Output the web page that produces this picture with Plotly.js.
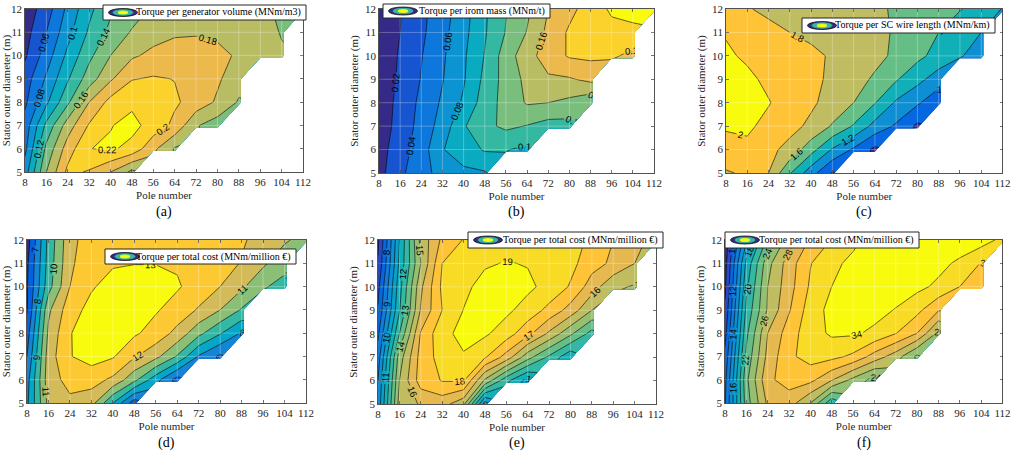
<!DOCTYPE html>
<html>
<head>
<meta charset="utf-8">
<script src="https://cdn.plot.ly/plotly-3.0.1.min.js"></script>
<style>
html,body{margin:0;padding:0;background:#fff;}
#chart{width:1012px;height:452px;}
</style>
</head>
<body>
<div id="chart"></div>
<script>
// ---------------- data ----------------
const N = null;
const poleNumber = [8,16,24,32,40,48,56,64,72,80,88,96,104,112];
const statorDiameter = [5,6,7,8,9,10,11,12];
const poleTicks = [8,16,24,32,40,48,56,64,72,80,88,96,104,112];
const diameterTicks = [5,6,7,8,9,10,11,12];

// rows: stator diameter 5..12 m, columns: pole number 8..112
const torquePerVolume = [
  [0.09, 0.16, 0.205, 0.198, 0.18, 0.155, N,N,N,N,N,N,N,N],
  [0.075, 0.145, 0.19, 0.2195, 0.223, 0.214, 0.185, 0.158, N,N,N,N,N,N],
  [0.068, 0.125, 0.17, 0.202, 0.219, 0.226, 0.212, 0.195, 0.162, 0.15, N,N,N,N],
  [0.056, 0.096, 0.136, 0.18, 0.207, 0.216, 0.213, 0.203, 0.192, 0.177, 0.158, N,N,N],
  [0.05, 0.083, 0.118, 0.15, 0.177, 0.199, 0.202, 0.1995, 0.193, 0.183, 0.168, N,N,N],
  [0.037, 0.07, 0.105, 0.135, 0.16, 0.177, 0.185, 0.19, 0.19, 0.184, 0.178, 0.17, 0.162, N],
  [0.032, 0.06, 0.093, 0.123, 0.145, 0.162, 0.172, 0.177, 0.178, 0.177, 0.173, 0.167, 0.159, N],
  [0.028, 0.05, 0.085, 0.115, 0.137, 0.15, 0.163, 0.168, 0.172, 0.174, 0.171, 0.166, 0.155, 0.148]
];
const torquePerIronMass = [
  [0.013, 0.036, 0.052, 0.068, 0.076, 0.078, N,N,N,N,N,N,N,N],
  [0.012, 0.031, 0.05, 0.079, 0.09, 0.102, 0.101, 0.096, N,N,N,N,N,N],
  [0.011, 0.026, 0.048, 0.068, 0.098, 0.115, 0.124, 0.119, 0.112, 0.113, N,N,N,N],
  [0.01, 0.025, 0.045, 0.063, 0.083, 0.11, 0.127, 0.142, 0.14, 0.135, 0.125, N,N,N],
  [0.008, 0.023, 0.041, 0.059, 0.078, 0.105, 0.128, 0.145, 0.157, 0.158, 0.165, N,N,N],
  [0.007, 0.022, 0.039, 0.057, 0.077, 0.101, 0.13, 0.152, 0.17, 0.182, 0.184, 0.183, 0.175, N],
  [0.006, 0.02, 0.036, 0.054, 0.074, 0.098, 0.121, 0.141, 0.165, 0.183, 0.19, 0.194, 0.193, N],
  [0.005, 0.019, 0.035, 0.051, 0.071, 0.097, 0.119, 0.136, 0.16, 0.174, 0.19, 0.203, 0.21, 0.215]
];
const torquePerWireLength = [
  [1.78, 1.83, 1.8, 1.42, 1.08, 0.78, N,N,N,N,N,N,N,N],
  [1.93, 1.96, 1.85, 1.74, 1.48, 1.18, 0.97, 0.75, N,N,N,N,N,N],
  [2.02, 2.03, 1.95, 1.86, 1.76, 1.58, 1.38, 1.13, 0.97, 0.76, N,N,N,N],
  [2.1, 2.06, 2.01, 1.92, 1.83, 1.73, 1.6, 1.41, 1.17, 1.03, 0.85, N,N,N],
  [2.08, 2.04, 1.96, 1.9, 1.84, 1.77, 1.68, 1.57, 1.42, 1.26, 1.1, N,N,N],
  [2.03, 1.97, 1.92, 1.88, 1.84, 1.78, 1.72, 1.66, 1.56, 1.45, 1.33, 1.21, 1.15, N],
  [1.985, 1.9, 1.84, 1.8, 1.76, 1.73, 1.7, 1.65, 1.58, 1.5, 1.4, 1.3, 1.2, N],
  [1.85, 1.81, 1.77, 1.74, 1.72, 1.7, 1.67, 1.63, 1.58, 1.53, 1.47, 1.41, 1.33, 1.19]
];
const torquePerCostD = [
  [7.8, 11.3, 11.8, 11.4, 9.0, 6.4, N,N,N,N,N,N,N,N],
  [7.6, 11.6, 12.3, 12.4, 11.8, 10.3, 8.4, 6.6, N,N,N,N,N,N],
  [7.0, 11.5, 12.95, 13.4, 13.1, 12.1, 11.3, 9.9, 7.9, 6.8, N,N,N,N],
  [6.5, 11.2, 12.95, 13.5, 13.45, 13.15, 12.6, 11.7, 10.3, 9.1, 7.9, N,N,N],
  [5.9, 10.8, 12.6, 13.3, 13.55, 13.4, 13.1, 12.6, 11.9, 11.0, 9.9, N,N,N],
  [5.9, 9.6, 12.0, 12.9, 13.35, 13.5, 13.45, 13.1, 12.6, 12.0, 11.2, 10.1, 9.7, N],
  [5.8, 9.4, 11.8, 12.7, 12.9, 12.97, 12.97, 12.9, 12.75, 12.35, 11.95, 11.2, 10.3, N],
  [5.5, 9.3, 11.7, 12.5, 12.7, 12.8, 12.85, 12.8, 12.6, 12.4, 12.1, 11.7, 11.15, 10.6]
];
const torquePerCostE = [
  [9.3, 15.4, 16.1, 16.4, 15.3, 9.5, N,N,N,N,N,N,N,N],
  [9.0, 15.0, 17.5, 18.05, 18.1, 14.8, 12.3, 10.6, N,N,N,N,N,N],
  [8.5, 14.5, 17.4, 18.4, 18.9, 18.1, 16.6, 14.4, 12.8, 11.2, N,N,N,N],
  [7.8, 13.0, 17.1, 18.7, 19.3, 19.15, 18.5, 17.3, 15.8, 14.2, 12.6, N,N,N],
  [7.1, 11.9, 16.1, 18.0, 19.02, 19.45, 19.2, 18.6, 17.7, 16.6, 15.0, N,N,N],
  [6.7, 11.6, 15.8, 18.2, 18.8, 19.3, 19.4, 19.2, 18.7, 17.9, 16.5, 15.2, 14.9, N],
  [6.1, 11.2, 15.0, 18.0, 18.65, 18.9, 19.05, 18.95, 18.65, 18.3, 17.4, 16.8, 16.0, N],
  [5.8, 11.0, 15.3, 17.2, 18.05, 18.4, 18.6, 18.6, 18.45, 18.2, 17.9, 17.0, 16.3, 15.7]
];
const torquePerCostF = [
  [11.8, 23.0, 28.4, 29.0, 26.0, 20.5, N,N,N,N,N,N,N,N],
  [11.4, 23.5, 29.6, 30.8, 30.6, 28.2, 25.5, 23.2, N,N,N,N,N,N],
  [10.5, 22.5, 28.6, 31.6, 32.8, 32.6, 31.6, 29.2, 27.0, 23.6, N,N,N,N],
  [9.3, 21.5, 28.0, 31.0, 33.2, 34.3, 34.3, 33.6, 32.1, 30.0, 25.5, N,N,N],
  [8.3, 20.5, 26.2, 29.8, 33.0, 34.6, 35.0, 34.7, 33.9, 32.6, 30.2, N,N,N],
  [7.6, 19.5, 26.0, 29.2, 32.3, 34.0, 34.8, 35.2, 35.0, 34.5, 33.6, 32.0, 31.2, N],
  [7.2, 18.5, 25.3, 29.0, 31.9, 33.6, 34.4, 34.9, 35.1, 35.0, 34.6, 33.6, 31.9, N],
  [6.5, 15.8, 22.6, 27.0, 30.3, 32.1, 33.6, 34.7, 35.1, 35.3, 35.4, 35.3, 34.9, 33.5]
];

// contour levels [start, end, step]
const levelsA = [0.04, 0.22, 0.02];
const levelsB = [0.02, 0.20, 0.02];
const levelsC = [0.8, 2.0, 0.2];
const levelsD = [6, 13, 1];
const levelsE = [6, 19, 1];
const levelsF = [8, 34, 2];

const legendTexts = [
  'Torque per generator volume (MNm/m3)',
  'Torque per irom mass (MNm/t)',
  'Torque per SC wire length (MNm/km)',
  'Torque per total cost (MNm/million €)',
  'Torque per total cost (MNm/million €)',
  'Torque per total cost (MNm/million €)'
];
const panelLabels = ['(a)','(b)','(c)','(d)','(e)','(f)'];
const xTitle = 'Pole number';
const yTitle = 'Stator outer diameter (m)';

// ---------------- styling ----------------
const W = 1012, H = 452;
const parula = [
  [0,'rgb(53,42,135)'],[4/63,'rgb(50,67,186)'],[8/63,'rgb(3,99,225)'],[12/63,'rgb(13,117,220)'],
  [16/63,'rgb(20,133,212)'],[20/63,'rgb(9,152,209)'],[24/63,'rgb(6,167,198)'],[28/63,'rgb(21,177,180)'],
  [32/63,'rgb(56,185,158)'],[36/63,'rgb(101,190,134)'],[40/63,'rgb(146,191,115)'],[44/63,'rgb(183,189,100)'],
  [48/63,'rgb(217,186,86)'],[50/63,'rgb(233,185,78)'],[52/63,'rgb(248,187,68)'],[54/63,'rgb(255,195,55)'],
  [56/63,'rgb(252,206,46)'],[58/63,'rgb(247,216,38)'],[60/63,'rgb(245,228,29)'],[62/63,'rgb(246,243,19)'],
  [1,'rgb(249,251,14)']
];

// pixel boxes of each plot area: [left, right, top, bottom]
const plotBoxes = [
  [25, 303, 9, 172], [379, 654, 9, 173], [726, 1002.5, 9, 173],
  [27, 306, 240, 403], [378, 656, 240, 404], [725, 1002.5, 240, 403]
];
// legend boxes: [left, top, width, height]
const legendBoxes = [
  [103, 5, 203, 15], [383, 4, 167, 14], [802, 18, 193, 15],
  [105, 249, 191, 15], [468, 232, 195, 16], [725, 232, 194, 16]
];
const panelLabelY = [212, 212, 212, 443, 443, 443];

const datasets = [torquePerVolume, torquePerIronMass, torquePerWireLength, torquePerCostD, torquePerCostE, torquePerCostF];
const levelSets = [levelsA, levelsB, levelsC, levelsD, levelsE, levelsF];

const px = p => p / W;
const py = p => 1 - p / H;
const serif = "'Liberation Serif', 'Times New Roman', serif";
const sans = "'Liberation Sans', Arial, sans-serif";
const axisColor = '#262626';

const traces = [];
const layout = {
  width: W, height: H,
  margin: {l:0, r:0, t:0, b:0},
  paper_bgcolor: '#ffffff', plot_bgcolor: '#ffffff',
  showlegend: false,
  font: {family: serif, size: 11, color: axisColor},
  shapes: [], annotations: []
};

for (let i = 0; i < 6; i++) {
  const sfx = i === 0 ? '' : String(i + 1);
  const [l, r, t, b] = plotBoxes[i];
  const lv = levelSets[i];
  traces.push({
    type: 'contour',
    x: poleNumber, y: statorDiameter, z: datasets[i],
    xaxis: 'x' + sfx, yaxis: 'y' + sfx,
    autocontour: false,
    contours: {start: lv[0], end: lv[1], size: lv[2], coloring: 'fill',
      showlabels: true, labelfont: {family: sans, size: 9.5, color: '#000000'}},
    line: {color: '#000000', width: 0.6, smoothing: 0},
    colorscale: parula, showscale: false, connectgaps: false,
    hoverinfo: 'skip'
  });
  layout['xaxis' + sfx] = {
    domain: [px(l), px(r)], anchor: 'y' + sfx, range: [8, 112],
    tickvals: poleTicks, ticktext: poleTicks.map(String),
    ticks: 'inside', ticklen: 3, tickwidth: 0.8, tickcolor: axisColor,
    showline: true, linecolor: axisColor, linewidth: 0.8, mirror: 'ticks',
    showgrid: false, zeroline: false, ticklabeloverflow: 'allow',
    tickfont: {family: serif, size: 11, color: axisColor},
    title: {text: xTitle, font: {family: serif, size: 11, color: axisColor}, standoff: 4}
  };
  layout['yaxis' + sfx] = {
    domain: [py(b), py(t)], anchor: 'x' + sfx, range: [5, 12],
    tickvals: diameterTicks, ticktext: diameterTicks.map(String),
    ticks: 'inside', ticklen: 3, tickwidth: 0.8, tickcolor: axisColor,
    showline: true, linecolor: axisColor, linewidth: 0.8, mirror: 'ticks',
    showgrid: false, zeroline: false, ticklabeloverflow: 'allow',
    tickfont: {family: serif, size: 11, color: axisColor},
    title: {text: yTitle, font: {family: serif, size: 11, color: axisColor}, standoff: 4}
  };
  // faint grid lines drawn above the filled contours
  poleTicks.slice(1, -1).forEach(v => layout.shapes.push({
    type: 'line', xref: 'x' + sfx, yref: 'y' + sfx, x0: v, x1: v, y0: 5, y1: 12,
    line: {color: 'rgba(255,255,255,0.28)', width: 1}, layer: 'above'
  }));
  diameterTicks.slice(1, -1).forEach(v => layout.shapes.push({
    type: 'line', xref: 'x' + sfx, yref: 'y' + sfx, x0: 8, x1: 112, y0: v, y1: v,
    line: {color: 'rgba(255,255,255,0.28)', width: 1}, layer: 'above'
  }));
  // legend box with contour icon
  const [ll, lt, lw, lh] = legendBoxes[i];
  layout.shapes.push({type: 'rect', xref: 'paper', yref: 'paper',
    x0: px(ll), x1: px(ll + lw), y0: py(lt + lh), y1: py(lt),
    fillcolor: '#ffffff', line: {color: axisColor, width: 1}, layer: 'above'});
  const cx = ll + 20, cy = lt + lh / 2;
  [[14.5, 4, 'rgb(53,42,135)', '#111'], [10, 2.7, 'rgb(56,185,158)', 'rgb(56,185,158)'], [5, 1.5, 'rgb(249,251,14)', 'rgb(249,251,14)']]
    .forEach(([rx, ry, fc, lc]) => layout.shapes.push({type: 'circle', xref: 'paper', yref: 'paper',
      x0: px(cx - rx), x1: px(cx + rx), y0: py(cy + ry), y1: py(cy - ry),
      fillcolor: fc, line: {color: lc, width: 0.8}, layer: 'above'}));
  layout.annotations.push({xref: 'paper', yref: 'paper', x: px(ll + lw - 3), y: py(cy),
    xanchor: 'right', yanchor: 'middle', showarrow: false, text: legendTexts[i],
    font: {family: serif, size: 10, color: '#000000'}});
  layout.annotations.push({xref: 'paper', yref: 'paper', x: px((l + r) / 2), y: py(panelLabelY[i]),
    xanchor: 'center', yanchor: 'middle', showarrow: false, text: panelLabels[i],
    font: {family: serif, size: 14, color: '#000000'}});
}

Plotly.newPlot('chart', traces, layout, {staticPlot: true, displayModeBar: false});
</script>
</body>
</html>
